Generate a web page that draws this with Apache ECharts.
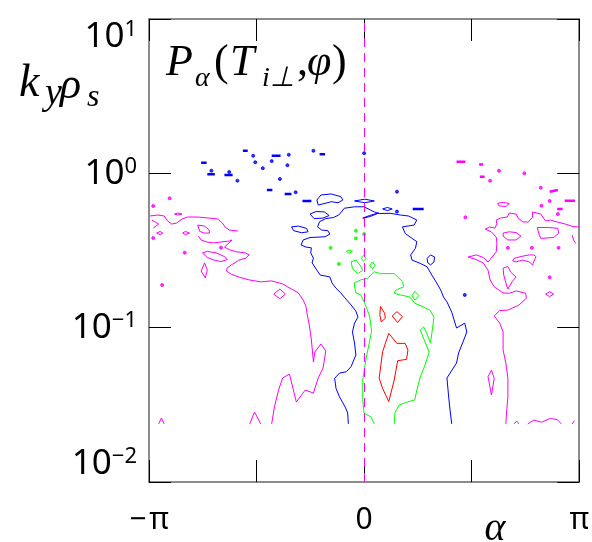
<!DOCTYPE html>
<html><head><meta charset="utf-8">
<script src="https://cdn.jsdelivr.net/npm/echarts@6/dist/echarts.min.js"></script>
<style>html,body{margin:0;padding:0;background:#fff}#c{width:592px;height:542px}</style>
</head><body><div id="c"></div>
<script>
// ---- axis ticks ----
const xTickValues = [-Math.PI, -Math.PI / 2, 0, Math.PI / 2, Math.PI];
const xTickLabels = ['\u2212\u200a\u03c0', '', '0', '', '\u03c0'];
const yTickValues = [0.01, 0.1, 1, 10];
const yTickExps = ['\u22122', '\u22121', '0', '1'];
const refAlpha = 0;

// ---- contour polylines [alpha, k_y rho_s] ----
const magentaLines = [
  [[-3.13,.529],[-3.01,.537],[-2.92,.529],[-2.87,.491],[-2.81,.469],[-2.74,.476],[-2.66,.505],[-2.58,.521],[-2.43,.521],[-2.26,.513],[-2.13,.505],[-2.07,.476],[-2.03,.449],[-1.97,.429],[-1.84,.423]],
  [[-2.42,.392],[-2.38,.370],[-2.30,.359],[-2.20,.354],[-2.09,.359],[-1.97,.364],[-1.93,.370],[-1.99,.348],[-2.04,.333],[-1.96,.319],[-1.86,.310],[-1.73,.305],[-1.68,.296],[-1.73,.282],[-1.83,.274],[-1.87,.266],[-1.86,.259],[-1.94,.255],[-2.00,.243],[-2.01,.233],[-1.94,.222],[-1.83,.213],[-1.68,.204],[-1.51,.198],[-1.35,.201],[-1.19,.192],[-1.06,.178],[-0.96,.168],[-0.89,.151],[-0.85,.138],[-0.83,.121],[-0.80,.104],[-0.77,.0832],[-0.74,.0599],[-0.72,.0695],[-0.63,.0784],[-0.56,.0705],[-0.60,.0547],[-0.67,.0472],[-0.74,.0377],[-0.86,.0394],[-0.99,.0330],[-1.09,.0500],[-1.19,.0472],[-1.25,.0394],[-1.31,.0306],[-1.35,.0238]],
  [[-3.10,.498],[-3.00,.469],[-3.08,.442]],
  [[-2.36,.305],[-2.29,.312],[-2.16,.305],[-2.04,.289],[-2.00,.276],[-2.09,.268],[-2.19,.274],[-2.29,.285],[-2.36,.305]],
  [[-2.33,.263],[-2.29,.236],[-2.32,.210],[-2.38,.233],[-2.33,.263]],
  [[-2.43,.462],[-2.33,.455],[-2.26,.429],[-2.26,.410],[-2.33,.410],[-2.40,.420],[-2.43,.462]],
  [[-3.03,.410],[-2.98,.420],[-2.94,.410],[-2.98,.401],[-3.03,.410]],
  [[-2.65,.410],[-2.61,.420],[-2.55,.410],[-2.61,.401],[-2.65,.410]],
  [[-2.77,.545],[-2.72,.553],[-2.66,.545],[-2.72,.537],[-2.77,.545]],
  [[-1.32,.165],[-1.23,.178],[-1.15,.165],[-1.23,.154],[-1.32,.165]],
  [[-3.00,.0238],[-2.96,.0260],[-2.92,.0238]],
  [[-1.67,.0238],[-1.60,.0284],[-1.51,.0238]],
  [[2.07,.0238],[2.08,.0280],[2.10,.0355],[2.10,.0472],[2.07,.0590],[2.03,.0716],[2.03,.0938],[1.98,.107],[1.90,.119],[1.98,.129],[2.10,.130],[2.26,.140],[2.37,.155],[2.36,.167],[2.22,.173],[2.12,.167],[2.03,.168],[1.90,.184],[1.84,.204],[1.81,.236],[1.74,.263],[1.62,.278],[1.52,.287],[1.64,.296],[1.74,.285],[1.81,.266],[1.87,.287],[1.93,.310],[1.94,.353],[1.93,.386],[1.86,.417],[1.77,.435],[1.83,.449],[1.91,.442],[1.94,.469],[1.93,.498],[1.99,.513],[2.09,.521],[2.12,.553],[2.22,.545],[2.25,.513],[2.32,.484],[2.40,.484],[2.46,.521],[2.46,.562],[2.58,.545],[2.62,.513],[2.65,.491],[2.72,.498],[2.82,.484],[2.94,.469],[3.05,.452],[3.14,.449]],
  [[2.03,.410],[2.12,.418],[2.22,.413],[2.29,.392],[2.22,.370],[2.10,.370],[2.03,.392],[2.03,.410]],
  [[2.53,.446],[2.69,.446],[2.83,.440],[2.84,.408],[2.77,.384],[2.58,.379],[2.55,.408],[2.53,.446]],
  [[2.17,.271],[2.19,.281],[2.29,.289],[2.41,.296],[2.48,.296],[2.51,.289],[2.46,.255],[2.41,.267],[2.31,.274],[2.22,.267],[2.17,.271]],
  [[2.03,.243],[2.10,.249],[2.14,.229],[2.22,.213],[2.16,.198],[2.10,.178],[2.07,.195],[2.04,.219],[2.03,.243]],
  [[1.95,.639],[2.03,.649],[2.12,.637],[2.07,.609],[1.97,.616],[1.95,.639]],
  [[2.65,.165],[2.71,.171],[2.77,.165],[2.71,.159],[2.65,.165]],
  [[1.81,.0481],[1.86,.0531],[1.90,.0469],[1.86,.0366],[1.81,.0481]],
  [[3.04,.398],[3.06,.370],[3.09,.352]],
  [[2.19,.0238],[2.23,.0248],[2.26,.0238]],
  [[2.39,.0238],[2.48,.0252],[2.59,.0244],[2.72,.0258],[2.82,.0254],[2.88,.0238]],
  [[3.04,.0238],[3.07,.0250]]
];
const magentaDashes = [
  [[1.35,1.19],[1.48,1.19]], [[1.68,1.14],[1.74,1.14]], [[1.69,.951],[1.76,.951]],
  [[2.71,.760],[2.83,.780]], [[2.93,.665],[3.08,.665]], [[2.82,.588],[2.90,.588]]
];
const magentaDots = [[-3.08,.614],[-2.84,.689],[-2.62,.306],[-2.09,.330],[-2.95,.189],[-3.08,.381],[1.97,1.04],[2.34,1.00],[1.84,.896],[2.58,.807],[2.71,.662],[2.59,.617],[1.48,.519],[2.83,.545],[2.10,.329],[2.45,.329],[2.84,.329],[2.71,.212]];

const blueLines = [
  [[-0.23,.0238],[-0.24,.0280],[-0.27,.0302],[-0.36,.0357],[-0.41,.0404],[-0.43,.0470],[-0.36,.0508],[-0.26,.0518],[-0.19,.0559],[-0.12,.0665],[-0.14,.0795],[-0.17,.0938],[-0.14,.107],[-0.09,.117],[-0.12,.128],[-0.20,.142],[-0.28,.156],[-0.34,.168],[-0.41,.180],[-0.47,.195],[-0.50,.213],[-0.56,.216],[-0.64,.219],[-0.69,.236],[-0.76,.263],[-0.74,.282],[-0.78,.305],[-0.77,.329],[-0.85,.333],[-0.92,.343],[-0.89,.370],[-0.79,.384],[-0.57,.388],[-0.50,.404],[-0.53,.425],[-0.62,.429],[-0.68,.450],[-0.65,.486],[-0.56,.509],[-0.45,.517],[-0.37,.537],[-0.32,.570],[-0.29,.594],[-0.14,.607],[0.00,.607],[0.09,.579],[0.15,.562],[0.22,.549],[0.38,.551],[0.53,.537],[0.65,.529],[0.77,.498],[0.73,.462],[0.56,.450],[0.60,.408],[0.70,.379],[0.77,.361],[0.75,.327],[0.68,.296],[0.70,.274],[0.82,.261],[0.92,.248],[0.99,.219],[1.06,.195],[1.12,.175],[1.16,.158],[1.21,.147],[1.28,.126],[1.35,.0995],[1.47,.107],[1.50,.0938],[1.45,.0820],[1.38,.0685],[1.35,.0590],[1.21,.0472],[1.23,.0377],[1.25,.0306],[1.28,.0238]],
  [[-0.63,.724],[-0.48,.735],[-0.34,.706],[-0.31,.672],[-0.38,.645],[-0.48,.655],[-0.57,.639],[-0.67,.623],[-0.69,.672],[-0.63,.724]],
  [[-0.79,.545],[-0.70,.566],[-0.58,.562],[-0.51,.533],[-0.60,.513],[-0.73,.509],[-0.79,.545]],
  [[-1.06,.450],[-0.96,.455],[-0.84,.440],[-0.82,.418],[-0.91,.412],[-1.03,.425],[-1.06,.450]],
  [[-0.14,.662],[0.01,.680],[0.15,.662],[0.01,.645],[-0.14,.662]],
  [[0.27,.588],[0.34,.601],[0.41,.588],[0.34,.573],[0.27,.588]],
  [[0.92,.281],[0.97,.296],[1.03,.287],[1.02,.266],[0.97,.255],[0.93,.263],[0.92,.281]],
  [[-0.02,.513],[0.08,.533],[0.21,.553],[0.09,.525],[-0.02,.513]]
];
const blueDashes = [
  [[-2.38,1.17],[-2.30,1.17]], [[-2.29,.985],[-2.18,.985]], [[-2.04,.975],[-1.92,.975]],
  [[-1.35,1.30],[-1.22,1.30]], [[-0.65,1.33],[-0.57,1.33]], [[-1.42,.780],[-1.34,.780]],
  [[-1.16,.735],[-1.06,.735]], [[-0.90,.662],[-0.77,.662]], [[0.71,.588],[0.87,.588]],
  [[-1.77,1.40],[-1.70,1.40]]
];
const blueDots = [[-2.23,1.04],[-1.97,1.02],[-1.62,1.30],[-1.10,1.32],[-0.74,1.40],[-1.59,1.18],[-1.35,1.20],[-1.12,1.13],[-1.48,1.08],[-1.85,.896],[-1.23,.919],[-1.00,.754],[0.00,1.35],[0.48,.761],[0.48,.565],[1.47,.163]];
const blueRings = [[-0.87,.263],[-0.49,.167],[-0.86,.565]];

const greenLines = [
  [[0.15,.0238],[0.10,.0264],[0.00,.0279],[-0.02,.0340],[-0.02,.0458],[0.03,.0636],[0.07,.0772],[0.11,.0952],[0.08,.119],[0.01,.144],[-0.05,.163],[-0.12,.168],[-0.14,.186],[-0.14,.195],[-0.05,.204],[0.05,.209],[0.15,.230],[0.24,.224],[0.44,.224],[0.56,.199],[0.58,.184],[0.46,.175],[0.44,.167],[0.53,.163],[0.67,.158],[0.74,.144],[0.87,.136],[0.96,.130],[1.02,.117],[1.00,.0995],[0.97,.0795],[0.92,.0909],[0.87,.101],[0.82,.0966],[0.89,.0808],[0.95,.0695],[0.89,.0573],[0.82,.0479],[0.77,.0394],[0.74,.0340],[0.63,.0330],[0.51,.0315],[0.45,.0280],[0.44,.0238]],
  [[-0.19,.267],[-0.12,.274],[-0.05,.251],[-0.02,.236],[-0.09,.224],[-0.17,.242],[-0.19,.267]],
  [[-0.04,.281],[-0.01,.294],[0.03,.281],[-0.01,.270],[-0.04,.281]],
  [[0.08,.253],[0.12,.266],[0.16,.253],[0.12,.241],[0.08,.253]],
  [[-0.26,.312],[-0.22,.319],[-0.17,.312],[-0.22,.303],[-0.26,.312]],
  [[0.74,.172],[0.80,.161],[0.74,.151],[0.70,.161],[0.74,.172]]
];
const greenDots = [[-0.12,.425],[0.00,.404],[-0.12,.379],[-0.49,.329],[-0.37,.259]];

const redLines = [
  [[0.24,.137],[0.30,.124],[0.31,.115],[0.25,.109],[0.23,.121],[0.24,.137]],
  [[0.41,.119],[0.48,.127],[0.56,.118],[0.49,.108],[0.41,.119]],
  [[0.36,.0918],[0.48,.0791],[0.60,.0791],[0.64,.0716],[0.62,.0623],[0.49,.0611],[0.44,.0458],[0.36,.0332],[0.27,.0404],[0.22,.0470],[0.27,.0698],[0.36,.0918]]
];

// ---- colours ----
const MAG = '#ff00ff', BLU = '#0000ff', GRN = '#00ff00', RED = '#ff0000';

function lineSeries(pts, color, width) {
  return { type: 'line', data: pts, symbol: 'none', showSymbol: false, silent: true,
    animation: false, lineStyle: { color: color, width: width }, z: 3 };
}
function dotSeries(pts, color, size, sym) {
  return { type: 'scatter', data: pts, symbol: sym || 'circle', symbolSize: size, silent: true,
    animation: false, itemStyle: { color: sym ? 'none' : color, borderColor: color, borderWidth: 1 }, z: 3 };
}

const series = [];
magentaLines.forEach(p => series.push(lineSeries(p, MAG, 1)));
magentaDashes.forEach(p => series.push(lineSeries(p, MAG, 2.5)));
series.push(dotSeries(magentaDots, MAG, 3));
blueLines.forEach(p => series.push(lineSeries(p, BLU, 1)));
blueDashes.forEach(p => series.push(lineSeries(p, BLU, 2.5)));
series.push(dotSeries(blueDots, BLU, 3));
series.push(dotSeries(blueRings, BLU, 5, 'emptyCircle'));
greenLines.forEach(p => series.push(lineSeries(p, GRN, 1)));
series.push(dotSeries(greenDots, GRN, 3));
redLines.forEach(p => series.push(lineSeries(p, RED, 1)));
series[series.length - 1].markLine = {
  silent: true, symbol: ['none', 'none'], label: { show: false }, animation: false,
  lineStyle: { color: MAG, type: [9, 6], width: 1 }, data: [{ xAxis: refAlpha }]
};

const FRAME = { show: true, onZero: false, lineStyle: { color: '#666', width: 1.5 } };
const TICK = { show: true, inside: true, length: 22, lineStyle: { color: '#000', width: 1 } };
const LABFONT = '"Noto Sans", "DejaVu Sans", sans-serif';

function xLabel(v) {
  const i = xTickValues.findIndex(t => Math.abs(t - v) < 1e-6);
  return i >= 0 ? xTickLabels[i] : '';
}
function yLabel(v) {
  const i = yTickValues.findIndex(t => Math.abs(Math.log10(t) - Math.log10(v)) < 1e-6);
  return i >= 0 ? '{b|10}{s|' + yTickExps[i] + '}' : '';
}

const chart = echarts.init(document.getElementById('c'), null, { renderer: 'canvas' });
chart.setOption({
  animation: false,
  backgroundColor: '#fff',
  grid: { left: 149, right: 8, top: 19, bottom: 60 },
  xAxis: [
    { type: 'value', min: -Math.PI, max: Math.PI, interval: Math.PI / 2, position: 'bottom',
      axisLine: FRAME, axisTick: TICK, splitLine: { show: false },
      axisLabel: { margin: 23, formatter: xLabel, fontSize: 30, fontFamily: LABFONT, color: '#000', showMinLabel: true, showMaxLabel: true } },
    { type: 'value', min: -Math.PI, max: Math.PI, interval: Math.PI / 2, position: 'top',
      axisLine: FRAME, axisTick: TICK, splitLine: { show: false }, axisLabel: { show: false } }
  ],
  yAxis: [
    { type: 'log', logBase: 10, min: 0.01, max: 10, position: 'left',
      axisLine: FRAME, axisTick: TICK, splitLine: { show: false }, minorTick: { show: false },
      axisLabel: { margin: 12, formatter: yLabel, color: '#000',
        verticalAlignMinLabel: 'bottom', verticalAlignMaxLabel: 'top',
        rich: {
          b: { fontSize: 35, fontFamily: LABFONT, color: '#000', lineHeight: 36, verticalAlign: 'bottom' },
          s: { fontSize: 22, fontFamily: LABFONT, color: '#000', lineHeight: 22, verticalAlign: 'top' }
        } } },
    { type: 'log', logBase: 10, min: 0.01, max: 10, position: 'right',
      axisLine: FRAME, axisTick: TICK, splitLine: { show: false }, minorTick: { show: false },
      axisLabel: { show: false } }
  ],
  graphic: [
    // y-axis title  k_y rho_s
    { type: 'text', x: 19, y: 84, silent: true, style: { text: 'k', font: 'italic 46px "Liberation Serif"', fill: '#000', align: 'left', verticalAlign: 'middle', textAlign: 'left', textVerticalAlign: 'middle' } },
    { type: 'text', x: 45, y: 94, silent: true, style: { text: 'y', font: 'italic 38px "Liberation Serif"', fill: '#000', align: 'left', verticalAlign: 'middle', textAlign: 'left', textVerticalAlign: 'middle' } },
    { type: 'text', x: 60, y: 86, silent: true, style: { text: '\u03c1', font: 'italic 44px "Liberation Serif"', fill: '#000', align: 'left', verticalAlign: 'middle', textAlign: 'left', textVerticalAlign: 'middle' } },
    { type: 'text', x: 87, y: 98, silent: true, style: { text: 's', font: 'italic 32px "Liberation Serif"', fill: '#000', align: 'left', verticalAlign: 'middle', textAlign: 'left', textVerticalAlign: 'middle' } },
    // panel title  P_alpha(T_i⊥, phi)
    { type: 'text', x: 166, y: 63, silent: true, style: { text: 'P', font: 'italic 44px "Liberation Serif"', fill: '#000', align: 'left', verticalAlign: 'middle', textAlign: 'left', textVerticalAlign: 'middle' } },
    { type: 'text', x: 195, y: 79, silent: true, style: { text: '\u03b1', font: 'italic 28px "Liberation Serif"', fill: '#000', align: 'left', verticalAlign: 'middle', textAlign: 'left', textVerticalAlign: 'middle' } },
    { type: 'text', x: 214, y: 63, silent: true, style: { text: '(', font: '44px "Liberation Serif"', fill: '#000', align: 'left', verticalAlign: 'middle', textAlign: 'left', textVerticalAlign: 'middle' } },
    { type: 'text', x: 230, y: 63, silent: true, style: { text: 'T', font: 'italic 44px "Liberation Serif"', fill: '#000', align: 'left', verticalAlign: 'middle', textAlign: 'left', textVerticalAlign: 'middle' } },
    { type: 'text', x: 262, y: 79, silent: true, style: { text: 'i\u22a5', font: 'italic 28px "Liberation Serif"', fill: '#000', align: 'left', verticalAlign: 'middle', textAlign: 'left', textVerticalAlign: 'middle' } },
    { type: 'text', x: 297, y: 63, silent: true, style: { text: ',', font: '44px "Liberation Serif"', fill: '#000', align: 'left', verticalAlign: 'middle', textAlign: 'left', textVerticalAlign: 'middle' } },
    { type: 'text', x: 307, y: 63, silent: true, style: { text: '\u03c6', font: 'italic 44px "Liberation Serif"', fill: '#000', align: 'left', verticalAlign: 'middle', textAlign: 'left', textVerticalAlign: 'middle' } },
    { type: 'text', x: 332, y: 63, silent: true, style: { text: ')', font: '44px "Liberation Serif"', fill: '#000', align: 'left', verticalAlign: 'middle', textAlign: 'left', textVerticalAlign: 'middle' } },
    // x-axis name alpha
    { type: 'text', x: 495, y: 529, silent: true, style: { text: '\u03b1', font: 'italic 40px "Liberation Serif"', fill: '#000', align: 'center', verticalAlign: 'middle', textAlign: 'center', textVerticalAlign: 'middle' } }
  ],
  series: series
});
</script>
</body></html>
